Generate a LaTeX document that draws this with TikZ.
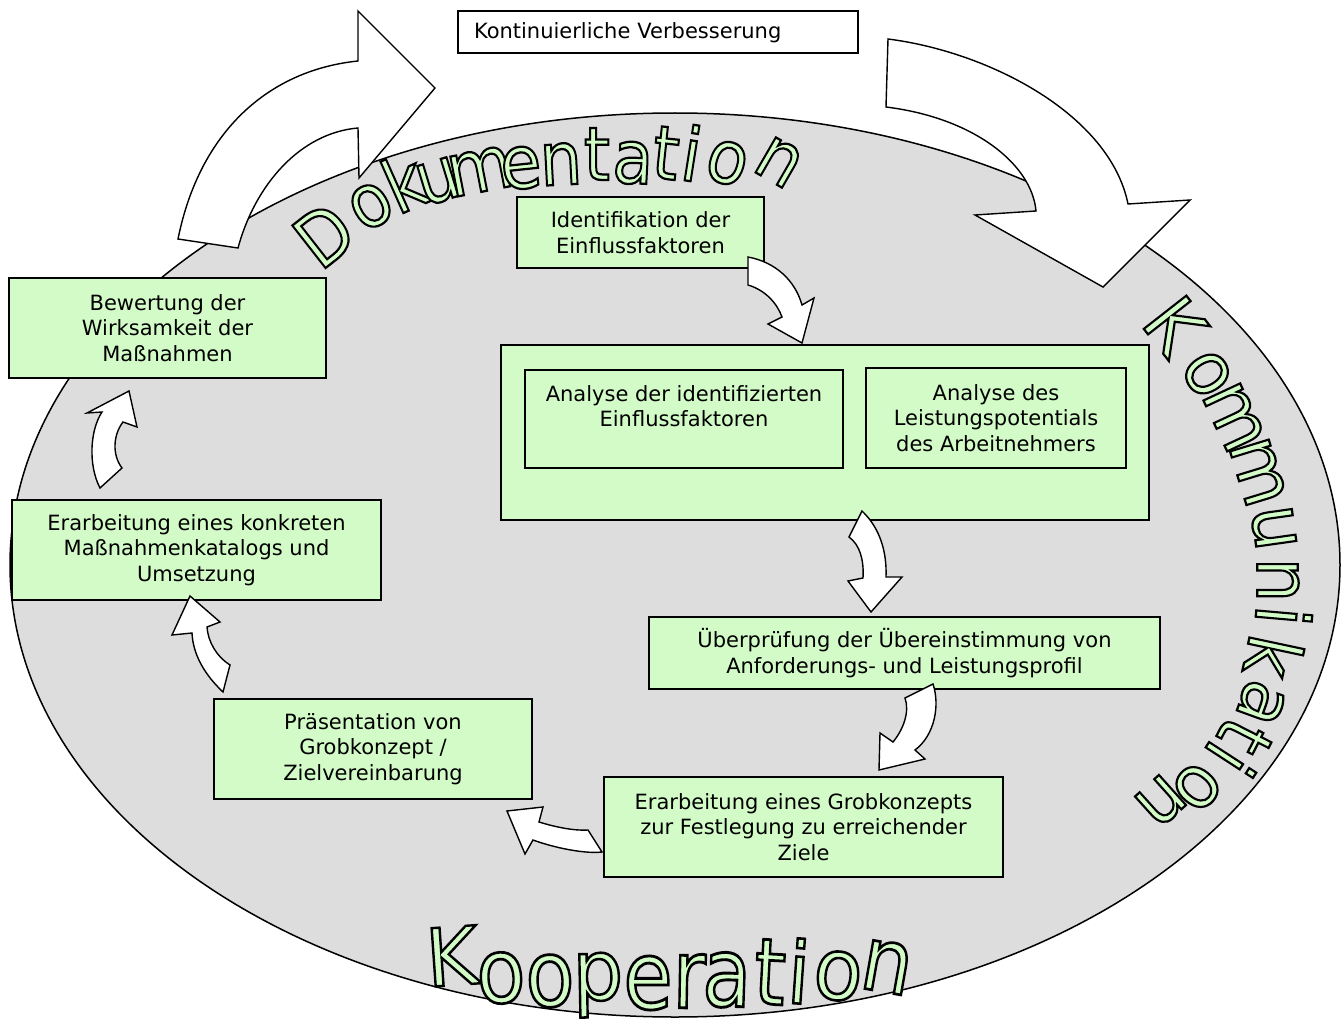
\documentclass[tikz,border=0pt]{standalone}
\usepackage{fontspec}
\setmainfont{DejaVu Sans}
\newfontface\wafont[FakeBold=3.0]{DejaVu Sans}
\definecolor{boxgreen}{RGB}{211,251,199}
\definecolor{ellgray}{RGB}{221,221,221}
\newcounter{wacnt}
\newcommand\waletter[7]{%
  \stepcounter{wacnt}%
  \node[wa, rotate=#3, xscale=#5, yscale=#6, font=\fontsize{#4}{#4}\wafont] (wl\arabic{wacnt}) at (#1,#2) {\pgfsetstrokecolor{black}#7};
}
\tikzset{
  wa/.style={text=boxgreen, inner sep=0pt},
  box/.style={draw=black, fill=boxgreen, line width=1.4pt, align=center, inner sep=0pt, font=\fontsize{21}{25.5}\selectfont},
  blockarrow/.style={draw=black, fill=white, line width=1.4pt, line join=miter},
}
\begin{document}
\begin{tikzpicture}[x=1pt,y=-1pt]
\useasboundingbox (0,0) rectangle (1342,1022);
\fill[white] (0,0) rectangle (1342,1022);
% ellipse
\draw[fill=ellgray, line width=1.5pt] (675,565) ellipse [x radius=665, y radius=452];
% big arrows
\draw[blockarrow] (178,239) .. controls (200,130) and (270,70) .. (358,61) -- (358,11) -- (435,88) -- (359,178) -- (358,128) .. controls (300,133) and (255,185) .. (238,248) -- cycle;
\draw[blockarrow] (888,39) .. controls (990,52) and (1110,115) .. (1128,204) -- (1190,200) -- (1103,287) -- (975,215) -- (1036,211) .. controls (1032,165) and (975,118) .. (886,107) -- cycle;
% top box
\node[draw=black, fill=white, line width=1.3pt, minimum width=400, minimum height=42, text width=368, inner xsep=16, inner ysep=0, align=left, text height=16, text depth=2, font=\fontsize{21}{25}\selectfont] (kv) at (658,32) {Kontinuierliche Verbesserung};
% boxes
\node[box, minimum width=247, minimum height=71] (ident) at (640.5,232.5) {Identifikation der\\Einflussfaktoren};
\node[box, minimum width=648, minimum height=175] (anal) at (825,432.5) {};
\node[box, minimum width=318, minimum height=98] (analA) at (684,419) {Analyse der identifizierten\\Einflussfaktoren\\\mbox{}};
\node[box, minimum width=260, minimum height=100] (analB) at (996,418) {Analyse des\\Leistungspotentials\\des Arbeitnehmers};
\node[box, minimum width=511, minimum height=72] (pruef) at (904.5,653) {Überprüfung der Übereinstimmung von\\Anforderungs- und Leistungsprofil};
\node[box, minimum width=399, minimum height=100] (grob) at (803.5,827) {Erarbeitung eines Grobkonzepts\\zur Festlegung zu erreichender\\Ziele};
\node[box, minimum width=318, minimum height=100] (praes) at (373,749) {Präsentation von\\Grobkonzept /\\Zielvereinbarung};
\node[box, minimum width=369, minimum height=100] (kat) at (196.5,550) {Erarbeitung eines konkreten\\Maßnahmenkatalogs und\\Umsetzung};
\node[box, minimum width=317, minimum height=100] (bew) at (167.5,328) {Bewertung der\\Wirksamkeit der\\Maßnahmen};
% small arrows
\draw[blockarrow] (748,257) .. controls (775,262) and (795,280) .. (802,305) -- (814,298) -- (802,343) -- (768,324) -- (782,317) .. controls (777,303) and (765,290) .. (748,285) -- cycle;
\draw[blockarrow] (862,511) .. controls (880,528) and (887,552) .. (886,577) -- (902,577) -- (871,612) -- (848,581) -- (863,578) .. controls (864,560) and (860,545) .. (849,537) -- cycle;
\draw[blockarrow] (933,684) .. controls (940,705) and (935,735) .. (915,750) -- (925,759) -- (879,770) -- (880,733) -- (893,742) .. controls (903,730) and (910,712) .. (905,698) -- cycle;
\draw[blockarrow] (602,852) .. controls (585,854) and (555,848) .. (533,840) -- (525,854) -- (507,811) -- (543,807) -- (539,822) .. controls (552,826) and (572,831) .. (588,830) -- cycle;
\draw[blockarrow] (223,692) .. controls (205,675) and (193,655) .. (192,633) -- (172,635) -- (190,596) -- (220,622) -- (207,627) .. controls (208,642) and (217,657) .. (230,665) -- cycle;
\draw[blockarrow] (100,488) .. controls (88,465) and (90,430) .. (102,412) -- (87,413) -- (129,391) -- (137,427) -- (123,422) .. controls (113,435) and (112,455) .. (122,468) -- cycle;
% word art: Dokumentation
\waletter{324}{235}{38}{74}{0.9}{1}{D}
\waletter{371}{206}{30}{74}{0.9}{1}{o}
\waletter{404}{182}{24}{74}{0.9}{1}{k}
\waletter{438}{181}{17}{74}{0.9}{1}{u}
\waletter{480}{171}{11}{74}{0.9}{1}{m}
\waletter{521}{168}{6}{74}{0.9}{1}{e}
\waletter{561}{164}{3}{74}{0.9}{1}{n}
\waletter{597}{154}{0}{74}{0.9}{1}{t}
\waletter{633}{163}{-3}{74}{0.9}{1}{a}
\waletter{666}{153}{-6}{74}{0.9}{1}{t}
\waletter{692}{153}{-9}{74}{0.9}{1}{i}
\waletter{727}{163}{-17}{74}{0.9}{1}{o}
\waletter{779}{162}{-30}{74}{0.9}{1}{n}
% Kommunikation
\waletter{1175}{325}{-52}{74}{0.95}{1}{K}
\waletter{1207}{374}{-58}{74}{0.95}{1}{o}
\waletter{1234}{417}{-65}{74}{0.95}{1}{m}
\waletter{1258}{472}{-73}{74}{0.95}{1}{m}
\waletter{1274}{528}{-82}{74}{0.95}{1}{u}
\waletter{1278}{580}{-90}{74}{0.95}{1}{n}
\waletter{1284}{616}{-95}{74}{0.95}{1}{i}
\waletter{1274}{657}{-102}{74}{0.95}{1}{k}
\waletter{1261}{703}{-110}{74}{0.95}{1}{a}
\waletter{1245}{737}{-117}{74}{0.95}{1}{t}
\waletter{1231}{760}{-123}{74}{0.95}{1}{i}
\waletter{1197}{787}{-130}{74}{0.95}{1}{o}
\waletter{1161}{801}{-138}{74}{0.95}{1}{n}
% Kooperation
\waletter{452}{956}{4}{80}{1}{1}{K}
\waletter{501}{978}{3}{80}{1}{1.12}{o}
\waletter{550}{981}{2}{80}{1}{1.15}{o}
\waletter{598}{985}{1}{80}{1}{1.05}{p}
\waletter{648}{983}{0}{80}{1}{1.18}{e}
\waletter{689}{981}{-1}{80}{1}{1.2}{r}
\waletter{727}{980}{-2}{80}{1}{1.2}{a}
\waletter{770}{972}{-3}{80}{1}{1.15}{t}
\waletter{799}{971}{-4}{80}{1}{1.07}{i}
\waletter{838}{976}{-6}{80}{1}{1.07}{o}
\waletter{887}{967}{-10}{80}{1}{1.12}{n}
\end{tikzpicture}
\end{document}
